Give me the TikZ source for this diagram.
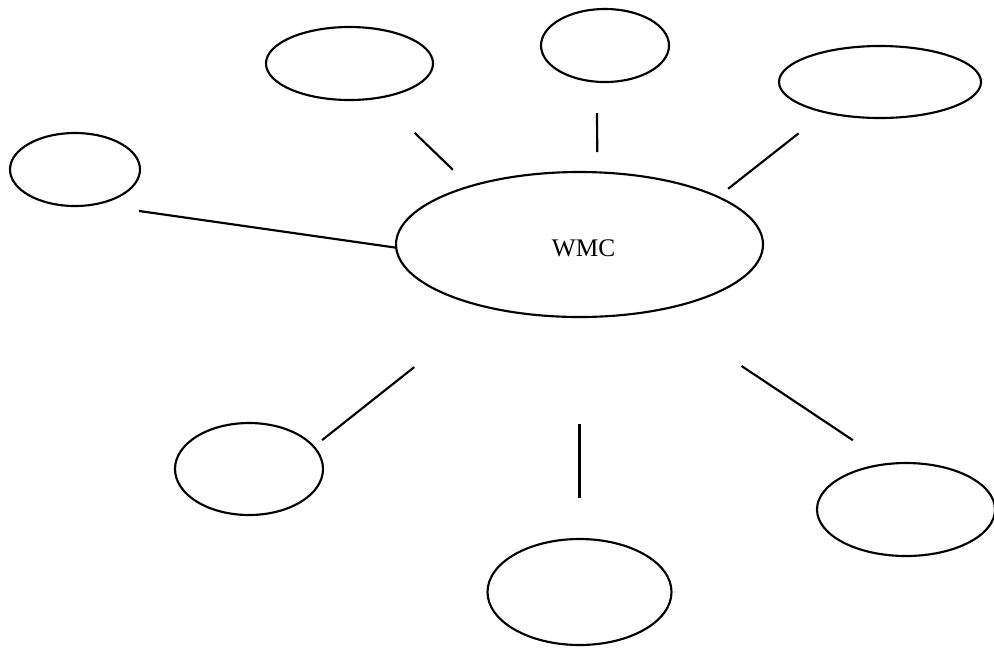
\documentclass[tikz,border=0pt]{standalone}
\usepackage{fontspec}
\setmainfont{Liberation Serif}
\usetikzlibrary{shapes.geometric}
\begin{document}
\begin{tikzpicture}[x=0.75pt,y=-0.75pt,
  bubble/.style 2 args={ellipse,draw,line width=1.6pt,inner sep=0pt,outer sep=0pt,
    minimum width=#1*1.5pt,minimum height=#2*1.5pt},
  link/.style={line width=1.6pt}]
\useasboundingbox (0,0) rectangle (994,647);

% central concept
\node[bubble={183.5}{72.5},
      label={[font=\fontsize{19}{22}\selectfont,xshift=3pt,yshift=-3pt]center:WMC}]
      (c) at (579.5,244.5) {};

% surrounding empty bubbles
\node[bubble={65}{36.5}]   (l)  at (75,169.5)  {};
\node[bubble={83.5}{36.5}] (tl) at (349.5,63.5) {};
\node[bubble={64}{36.5}]   (tm) at (605,45.5)  {};
\node[bubble={101}{36}]    (tr) at (880,82)    {};
\node[bubble={74}{46}]     (bl) at (249,469)   {};
\node[bubble={92}{53}]     (bm) at (579.5,592) {};
\node[bubble={89}{46.5}]   (br) at (906,509.5) {};

% spokes, detached from the bubbles by short gaps
\draw[link,shorten >=34.35pt] (c.181) -- (l.-62);
\draw[link,shorten <=17.85pt,shorten >=37.8pt] (c.152.3) -- (tl.-50.4);
\draw[link,shorten <=15.2pt,shorten >=23.5pt] (c.76.4) -- (tm.257.5);
\draw[link,shorten <=9.8pt,shorten >=25.6pt] (c.19.65) -- (tr.209.6);
\draw[link,shorten <=71.85pt,shorten >=8pt] (c.215.4) -- (bl.19.1);
\draw[link,shorten <=80.25pt,shorten >=30.75pt] (c.270) -- (bm.90);
\draw[link,shorten <=75.6pt,shorten >=32.1pt] (c.320.8) -- (br.111);
\end{tikzpicture}
\end{document}
